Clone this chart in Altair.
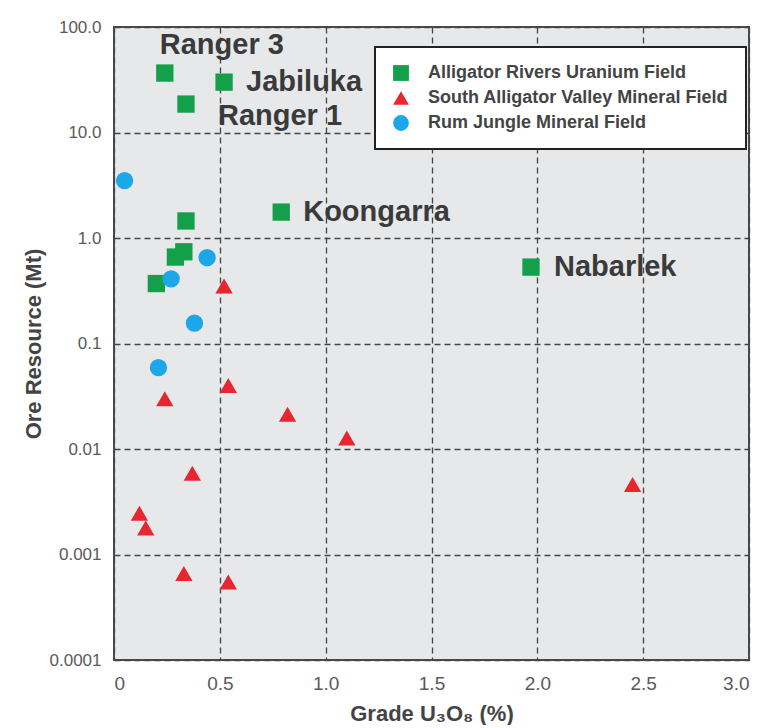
import altair as alt
import pandas as pd

# ---- data ----
ar_grade = [0.24, 0.52, 0.34, 0.34, 0.79, 0.33, 0.29, 0.20, 1.97]
ar_res   = [36.6, 30.0, 18.6, 1.45, 1.76, 0.74, 0.66, 0.37, 0.53]
ar_name  = ["Ranger 3", "Jabiluka", "Ranger 1", "", "Koongarra", "", "", "", "Nabarlek"]

sav_grade = [0.52, 0.54, 0.24, 0.82, 1.10, 0.37, 0.12, 0.15, 0.33, 0.54, 2.45]
sav_res   = [0.35, 0.040, 0.030, 0.0214, 0.0127, 0.0059, 0.00246, 0.00178, 0.00066, 0.00055, 0.0046]

rj_grade = [0.05, 0.44, 0.27, 0.38, 0.21]
rj_res   = [3.5, 0.65, 0.41, 0.156, 0.059]

fields = ["Alligator Rivers Uranium Field",
          "South Alligator Valley Mineral Field",
          "Rum Jungle Mineral Field"]
colors = ["#14a04b", "#e8262f", "#1ba7e8"]
shapes = ["square", "triangle-up", "circle"]

x_ticks = [0, 0.5, 1.0, 1.5, 2.0, 2.5, 3.0]
y_ticks = [0.0001, 0.001, 0.01, 0.1, 1, 10, 100]

rows = []
for g, r, n in zip(ar_grade, ar_res, ar_name):
    rows.append({"grade": g, "res": r, "field": fields[0], "name": n})
for g, r in zip(sav_grade, sav_res):
    rows.append({"grade": g, "res": r, "field": fields[1], "name": ""})
for g, r in zip(rj_grade, rj_res):
    rows.append({"grade": g, "res": r, "field": fields[2], "name": ""})
df = pd.DataFrame(rows)

FONT = "Liberation Sans, Arial"

x_enc = alt.X("grade:Q",
              scale=alt.Scale(domain=[0, 3.0], nice=False, zero=False),
              axis=alt.Axis(values=x_ticks, title="Grade U₃O₈ (%)",
                            labelExpr="datum.value == 0 ? '0' : format(datum.value, '.1f')",
                            grid=True, gridDash=[6, 4], gridColor="#444", gridWidth=1.3,
                            gridOpacity=1, ticks=False, domain=False,
                            labelFontSize=19, labelColor="#5a5a5a", labelFont=FONT,
                            labelPadding=14, titleFontSize=22, titleFont=FONT,
                            titleFontWeight="bold", titleColor="#444", titlePadding=10))
y_enc = alt.Y("res:Q",
              scale=alt.Scale(type="log", domain=[0.0001, 100], nice=False),
              axis=alt.Axis(values=y_ticks, title="Ore Resource (Mt)",
                            labelExpr="datum.value >= 1 ? format(datum.value, '.1f') : format(datum.value, '~g')",
                            grid=True, gridDash=[6, 4], gridColor="#444", gridWidth=1.3,
                            gridOpacity=1, ticks=False, domain=False,
                            labelFontSize=17, labelColor="#5a5a5a", labelFont=FONT,
                            labelPadding=13, titleFontSize=22, titleFont=FONT,
                            titleFontWeight="bold", titleColor="#444", titlePadding=4))

points = alt.Chart(df).mark_point(filled=True, opacity=1, size=300).encode(
    x=x_enc, y=y_enc,
    color=alt.Color("field:N", scale=alt.Scale(domain=fields, range=colors),
                    legend=alt.Legend(title=None, orient="none", legendX=261, legendY=20,
                                      direction="vertical",
                                      fillColor="white", strokeColor="#222",
                                      padding=17, rowPadding=7,
                                      labelFontSize=18, labelFont=FONT, labelColor="#444",
                                      labelFontWeight="bold", symbolSize=250,
                                      labelLimit=400, symbolOffset=0, labelOffset=18,
                                      symbolStrokeWidth=0)),
    shape=alt.Shape("field:N", scale=alt.Scale(domain=fields, range=shapes)),
)

# label offsets relative to points
label_offsets = {
    "Ranger 3": (-5, -28),
    "Jabiluka": (22, 0),
    "Ranger 1": (32, 12),
    "Koongarra": (22, 0),
    "Nabarlek": (23, 0),
}
layers = [points]
for name, (dx, dy) in label_offsets.items():
    layers.append(
        alt.Chart(df).transform_filter(alt.datum.name == name)
        .mark_text(align="left", baseline="middle", dx=dx, dy=dy, fontSize=29,
                   font=FONT, fontWeight="bold", color="#3a3a3a")
        .encode(x="grade:Q", y="res:Q", text="name:N")
    )

chart = alt.layer(*layers).properties(
    width=635, height=633,
    padding={"left": 106, "top": 19, "right": 10, "bottom": 65},
    autosize=alt.AutoSizeParams(type="none"),
    background="white",
).configure_view(
    fill="#e6e8ea", stroke="#4a4a4a", strokeWidth=2
).configure_legend(strokeWidth=2)

chart.save("out.html", embed_options={"renderer": "svg", "actions": False})
